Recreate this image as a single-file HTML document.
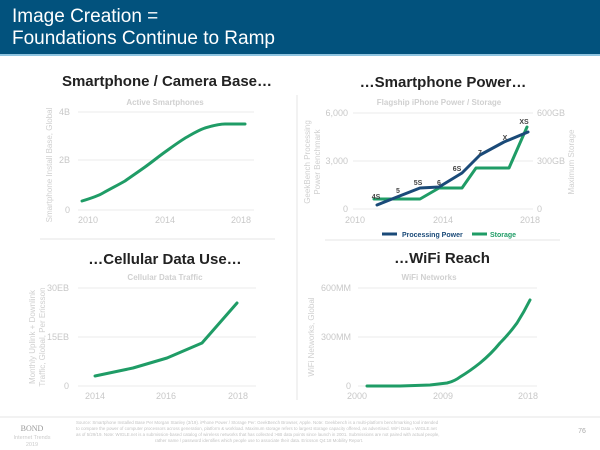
<!DOCTYPE html>
<html><head><meta charset="utf-8"><style>
body{margin:0;width:600px;height:450px;overflow:hidden;background:#fff;font-family:"Liberation Sans",sans-serif}
#hd{position:absolute;left:0;top:0;width:600px;height:56px;background:#02527d;border-bottom:2px solid #8fc4e0;box-sizing:border-box}
#hd div{position:absolute;left:12px;color:#fff;font-size:19px;line-height:20px}
</style></head><body>
<div id="hd"><div style="top:7px">Image Creation =</div><div style="top:29px">Foundations Continue to Ramp</div></div>
<svg width="600" height="450" style="position:absolute;left:0;top:0" font-family="Liberation Sans, sans-serif">
<g stroke="#e4e4e4" stroke-width="1">
<line x1="297" y1="95" x2="297" y2="400"/>
<line x1="40" y1="239" x2="275" y2="239"/>
<line x1="325" y1="240" x2="560" y2="240"/>
<line x1="0" y1="417" x2="600" y2="417"/>
</g>
<g font-weight="bold" font-size="15" fill="#222" text-anchor="middle">
<text x="167" y="86">Smartphone / Camera Base…</text>
<text x="443" y="87">…Smartphone Power…</text>
<text x="165" y="264">…Cellular Data Use…</text>
<text x="442" y="263">…WiFi Reach</text>
</g>
<g font-size="8" font-weight="bold" fill="#d0d0d0" text-anchor="middle">
<text x="165" y="105">Active Smartphones</text>
<text x="439" y="105">Flagship iPhone Power / Storage</text>
<text x="165" y="280">Cellular Data Traffic</text>
<text x="429" y="280">WiFi Networks</text>
</g>
<g stroke="#ebebeb">
<line x1="78" y1="112" x2="254" y2="112"/><line x1="78" y1="160" x2="254" y2="160"/><line x1="78" y1="210" x2="254" y2="210"/>
<line x1="353" y1="113" x2="533" y2="113"/><line x1="353" y1="161" x2="533" y2="161"/><line x1="353" y1="209" x2="533" y2="209"/>
<line x1="78" y1="288" x2="256" y2="288"/><line x1="78" y1="337" x2="256" y2="337"/><line x1="78" y1="386" x2="256" y2="386"/>
<line x1="358" y1="288" x2="537" y2="288"/><line x1="358" y1="337" x2="537" y2="337"/><line x1="358" y1="386" x2="537" y2="386"/>
</g>
<g font-size="9" fill="#c8c8c8">
<text x="70" y="115" text-anchor="end">4B</text><text x="70" y="163" text-anchor="end">2B</text><text x="70" y="213" text-anchor="end">0</text>
<text x="88" y="223" text-anchor="middle">2010</text><text x="165" y="223" text-anchor="middle">2014</text><text x="241" y="223" text-anchor="middle">2018</text>
<text x="348" y="116" text-anchor="end">6,000</text><text x="348" y="164" text-anchor="end">3,000</text><text x="348" y="212" text-anchor="end">0</text>
<text x="537" y="116">600GB</text><text x="537" y="164">300GB</text><text x="537" y="212">0</text>
<text x="355" y="223" text-anchor="middle">2010</text><text x="443" y="223" text-anchor="middle">2014</text><text x="530" y="223" text-anchor="middle">2018</text>
<text x="69" y="291" text-anchor="end">30EB</text><text x="69" y="340" text-anchor="end">15EB</text><text x="69" y="389" text-anchor="end">0</text>
<text x="95" y="399" text-anchor="middle">2014</text><text x="166" y="399" text-anchor="middle">2016</text><text x="238" y="399" text-anchor="middle">2018</text>
<text x="351" y="291" text-anchor="end">600MM</text><text x="351" y="340" text-anchor="end">300MM</text><text x="351" y="389" text-anchor="end">0</text>
<text x="357" y="399" text-anchor="middle">2000</text><text x="443" y="399" text-anchor="middle">2009</text><text x="528" y="399" text-anchor="middle">2018</text>
</g>
<g font-size="8" fill="#d0d0d0" text-anchor="middle">
<text transform="translate(52,165) rotate(-90)">Smartphone Install Base, Global</text>
<text transform="translate(310,162) rotate(-90)">GeekBench Processing</text>
<text transform="translate(320,162) rotate(-90)">Power Benchmark</text>
<text transform="translate(574,162) rotate(-90)">Maximum Storage</text>
<text transform="translate(35,337) rotate(-90)">Monthly Uplink + Downlink</text>
<text transform="translate(45,337) rotate(-90)">Traffic, Global, Per Ericsson</text>
<text transform="translate(314,337) rotate(-90)">WiFi Networks, Global</text>
</g>
<g fill="none" stroke-width="3" stroke-linejoin="round" stroke-linecap="round">
<path stroke="#1f9c66" d="M82,201 C92,198 98,196 103,193 C112,188 118,185 125,181 C132,176 138,172 145,167 C152,162 158,157 165,152 C172,147 180,141 187,137 C194,133 199,130 205,128 C212,126 218,124 225,124 L245,124"/>
<path stroke="#1f9c66" d="M374,199 L420,199 L439,188 L462,188 L476,168 L509,168 L527,127"/>
<path stroke="#1a4a78" d="M377,205 L397,197 L420,188 L439,187 L462,173 L480,155 L504,142 L528,132"/>
<path stroke="#1f9c66" d="M95,376 L133,368 L167,358 L202,343 L237,303"/>
<path stroke="#1f9c66" d="M367,386 L400,386 L430,385 L447,383 Q455,381 460,377 Q470,371 480,363 Q491,354 500,343 Q509,334 517,323 Q524,312 530,300"/>
</g>
<g font-size="7" font-weight="bold" fill="#444" text-anchor="middle">
<text x="376" y="199">4S</text><text x="398" y="193">5</text><text x="418" y="185">5S</text><text x="439" y="185">6</text><text x="457" y="171">6S</text><text x="480" y="155">7</text><text x="505" y="140">X</text><text x="524" y="124">XS</text>
</g>
<line x1="382" y1="234" x2="397" y2="234" stroke="#1a4a78" stroke-width="3"/>
<text x="402" y="237" font-size="7" font-weight="bold" fill="#1a4a78">Processing Power</text>
<line x1="472" y1="234" x2="487" y2="234" stroke="#1f9c66" stroke-width="3"/>
<text x="490" y="237" font-size="7" font-weight="bold" fill="#1f9c66">Storage</text>
<text x="32" y="431" font-family="Liberation Serif, serif" font-size="8" fill="#999" text-anchor="middle">BOND</text>
<text x="32" y="439" font-size="5.5" fill="#ccc" text-anchor="middle">Internet Trends</text>
<text x="32" y="446" font-size="5.5" fill="#ccc" text-anchor="middle">2019</text>
<text x="582" y="433" font-size="7" fill="#aaa" text-anchor="middle">76</text>
<g font-size="4.4" fill="#c4c4c4">
<text x="76" y="424">Source: Smartphone Installed Base Per Morgan Stanley (3/19). iPhone Power / Storage Per: GeekBench Browser, Apple. Note: Geekbench is a multi-platform benchmarking tool intended</text>
<text x="76" y="430">to compare the power of computer processors across generation, platform &amp; workload. Maximum storage refers to largest storage capacity offered, as advertised. WiFi Data = WIGLE.net</text>
<text x="76" y="436">as of 5/29/19. Note: WIGLE.net is a submission-based catalog of wireless networks that has collected &gt;6B data points since launch in 2001. Submissions are not paired with actual people,</text>
<text x="155" y="442">rather name / password identifies which people use to associate their data. Ericsson Q4:18 Mobility Report.</text>
</g>
</svg>
</body></html>
